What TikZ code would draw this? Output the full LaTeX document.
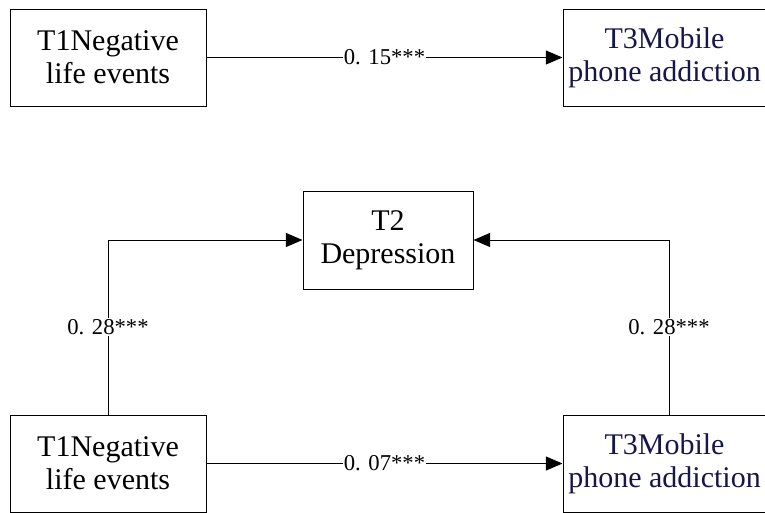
\documentclass[tikz,border=0pt]{standalone}
\usepackage{fontspec}
\setmainfont{Liberation Serif}
\usetikzlibrary{arrows.meta}

\definecolor{navytext}{RGB}{22,22,72}

\tikzset{every picture/.style={line width=0.75pt}}
\tikzset{
  varbox/.style={draw, rectangle, align=center, inner sep=0.75pt,
    font=\rmfamily\fontsize{22.5}{25}\selectfont},
  coef/.style={fill=white, inner sep=1pt, font=\rmfamily\fontsize{17}{19}\selectfont},
  path arrow/.style={-{Triangle[length=12.5pt,width=10.5pt]}}
}

\begin{document}
\begin{tikzpicture}[x=0.75pt,y=0.75pt,yscale=-1,xscale=1]
\useasboundingbox (0,0) rectangle (765,512);

% Text Node
\node [varbox, minimum width=147pt, minimum height=72.75pt] (neg1) at (108,57.5) {T1Negative\\life events};
% Text Node
\node [varbox, minimum width=152.25pt, minimum height=72.75pt, text=navytext] (mob1) at (664.5,57.5) {T3Mobile\\phone addiction};
% Text Node
\node [varbox, minimum width=127.5pt, minimum height=73.5pt] (dep) at (388,240) {T2\\Depression};
% Text Node
\node [varbox, minimum width=147pt, minimum height=72.75pt] (neg2) at (108,463.5) {T1Negative\\life events};
% Text Node
\node [varbox, minimum width=152.25pt, minimum height=72.75pt, text=navytext] (mob2) at (664.5,463.5) {T3Mobile\\phone addiction};

%Straight Lines
\draw [path arrow] (neg1) -- (mob1) node [coef, midway] {0. 15***};
%Straight Lines
\draw [path arrow] (neg2) -- (mob2) node [coef, midway] {0. 07***};
%Straight Lines
\draw [path arrow] (neg2.north) |- (dep.west) node [coef, pos=0.25] {0. 28***};
%Straight Lines
\draw [path arrow] (mob2.north -| 669,0) |- (dep.east) node [coef, pos=0.25] {0. 28***};

\end{tikzpicture}
\end{document}
